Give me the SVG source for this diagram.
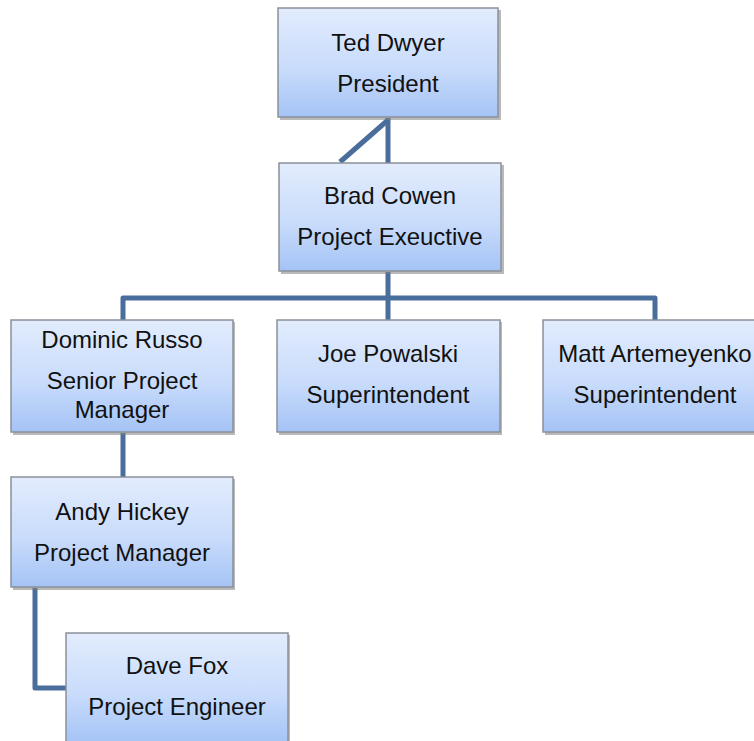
<svg xmlns="http://www.w3.org/2000/svg" width="754" height="741" viewBox="0 0 754 741">
<style>
.box{fill:url(#g);stroke:#8a9099;stroke-width:1.5}
.sh{fill:#7f7f7f;opacity:0.55}
.t{font-family:"Liberation Sans",Arial,sans-serif;font-size:24px;fill:#111;text-anchor:middle}
.c{fill:none;stroke:#4a6e9c;stroke-width:5;stroke-linejoin:round}
</style>
<defs>
<linearGradient id="g" x1="0" y1="0" x2="0" y2="1">
<stop offset="0" stop-color="#e2ecfd"/>
<stop offset="0.55" stop-color="#c9dcfb"/>
<stop offset="1" stop-color="#a4c3f5"/>
</linearGradient>
</defs>
<rect width="754" height="741" fill="#fff"/>
<g id="connectors">
<path class="c" d="M388 118 V163"/>
<path class="c" d="M388 120 L340 162"/>
<path class="c" d="M388 272 V298 M123 320 V298 H655 V320 M388 298 V320"/>
<path class="c" d="M123 433 V477"/>
<path class="c" d="M35 588 V688 H66"/>
</g>
<g id="ted">
<rect class="sh" x="280" y="10" width="221" height="110"/>
<rect class="box" x="278" y="8" width="220" height="109"/>
<text class="t" x="388" y="51">Ted Dwyer</text>
<text class="t" x="388" y="92">President</text>
</g>
<g id="brad">
<rect class="sh" x="281" y="165" width="223" height="109"/>
<rect class="box" x="279" y="163" width="222" height="108"/>
<text class="t" x="390" y="204">Brad Cowen</text>
<text class="t" x="390" y="245">Project Exeuctive</text>
</g>
<g id="dominic">
<rect class="sh" x="13" y="322" width="222" height="113"/>
<rect class="box" x="11" y="320" width="222" height="112"/>
<text class="t" x="122" y="348">Dominic Russo</text>
<text class="t" x="122" y="389">Senior Project</text>
<text class="t" x="122" y="418">Manager</text>
</g>
<g id="joe">
<rect class="sh" x="279" y="322" width="223" height="113"/>
<rect class="box" x="277" y="320" width="223" height="112"/>
<text class="t" x="388" y="362">Joe Powalski</text>
<text class="t" x="388" y="403">Superintendent</text>
</g>
<g id="matt">
<rect class="sh" x="545" y="322" width="223" height="113"/>
<rect class="box" x="543" y="320" width="223" height="112"/>
<text class="t" x="655" y="362">Matt Artemeyenko</text>
<text class="t" x="655" y="403">Superintendent</text>
</g>
<g id="andy">
<rect class="sh" x="13" y="479" width="222" height="111"/>
<rect class="box" x="11" y="477" width="222" height="110"/>
<text class="t" x="122" y="520">Andy Hickey</text>
<text class="t" x="122" y="561">Project Manager</text>
</g>
<g id="dave">
<rect class="sh" x="68" y="635" width="222" height="110"/>
<rect class="box" x="66" y="633" width="222" height="110"/>
<text class="t" x="177" y="674">Dave Fox</text>
<text class="t" x="177" y="715">Project Engineer</text>
</g>
</svg>
